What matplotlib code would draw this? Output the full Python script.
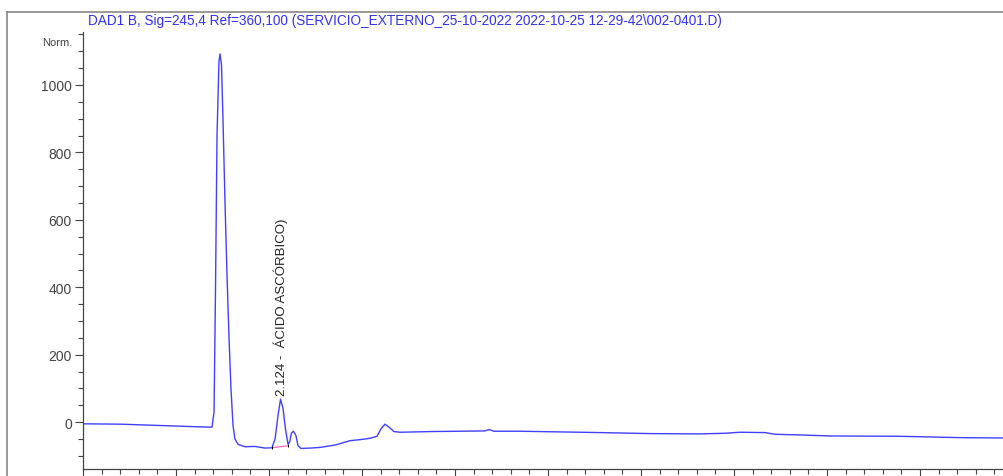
import numpy as np
import matplotlib.pyplot as plt
from matplotlib.lines import Line2D
from matplotlib.ticker import MultipleLocator

plt.rcParams['font.family'] = ['Liberation Sans', 'DejaVu Sans']

# retention time (min) and signal (Norm.)
time = [0.000, 0.398, 0.828, 1.258, 1.387, 1.409, 1.425, 1.441, 1.462, 1.473,
        1.489, 1.505, 1.527, 1.548, 1.570, 1.591, 1.613, 1.634, 1.667, 1.742,
        1.849, 1.957, 2.032, 2.065, 2.097, 2.124, 2.151, 2.177, 2.204, 2.220,
        2.242, 2.263, 2.290, 2.312, 2.344, 2.441, 2.548, 2.710, 2.871, 2.978,
        3.086, 3.161, 3.204, 3.247, 3.290, 3.344, 3.409, 3.731, 4.054, 4.323,
        4.366, 4.419, 4.699, 5.129, 5.559, 6.097, 6.634, 6.903, 7.065, 7.333,
        7.441, 7.710, 8.032, 8.785, 9.430, 9.903]
signal = [-5, -6, -10, -14, -15, 30, 400, 850, 1070, 1092,
          1060, 900, 650, 440, 250, 100, -10, -50, -66, -73,
          -72, -77, -76, -50, 20, 68, 40, -20, -65, -60,
          -32, -27, -40, -70, -78, -77, -75, -68, -55, -52,
          -48, -42, -20, -6, -15, -28, -30, -28, -27, -26,
          -22, -27, -27, -29, -31, -34, -35, -33, -30, -31,
          -36, -38, -41, -42, -46, -47]

# integration baseline of the labelled peak
base_t = [2.035, 2.208]
base_y = [-76, -70]

peak_rt = 2.124
peak_h = 68
peak_label = '2.124 -  ÁCIDO ASCÓRBICO)'
title = 'DAD1 B, Sig=245,4 Ref=360,100 (SERVICIO_EXTERNO_25-10-2022 2022-10-25 12-29-42\\002-0401.D)'

fig = plt.figure(figsize=(10.04, 4.77), dpi=100)
W, H = 1004, 477
ax = fig.add_axes([83 / W, 7 / H, (W - 83) / W, (470 - 33) / H])

ax.plot(time, signal, color='#4040ff', lw=1.0)
ax.plot(base_t, base_y, color='#ff66cc', lw=0.9)
ax.vlines(base_t, [y - 5 for y in base_y], [y + 5 for y in base_y], color='k', lw=0.7)

ax.text(peak_rt, peak_h + 12, peak_label, rotation=90, ha='center', va='bottom',
        fontsize=9.5, color='#222222')

ax.set_xlim(0, 9.903)
ax.set_ylim(-139, 1157)
ax.xaxis.set_major_locator(MultipleLocator(1))
ax.xaxis.set_minor_locator(MultipleLocator(0.2))
ax.yaxis.set_major_locator(MultipleLocator(200))
ax.yaxis.set_minor_locator(MultipleLocator(50))
ax.tick_params(axis='both', which='both', direction='out', color='#444444', width=0.8)
ax.tick_params(axis='both', which='major', length=6)
ax.tick_params(axis='both', which='minor', length=3.5)
ax.tick_params(axis='x', labelbottom=False)
ax.tick_params(axis='y', labelsize=10, labelcolor='#444444', pad=2)

for s in ['top', 'right']:
    ax.spines[s].set_visible(False)
for s in ['left', 'bottom']:
    ax.spines[s].set_color('#444444')
    ax.spines[s].set_linewidth(0.9)

fig.text(72 / W, 1 - 43 / H, 'Norm.', fontsize=8, color='#444444', ha='right', va='center')
fig.text(88 / W, 1 - 21 / H, title, fontsize=9.8, color='#3333ee', ha='left', va='center')

# outer frame
fig.add_artist(Line2D([7 / W, 7 / W], [0, 1 - 13 / H], color='#888888', lw=1.2))
fig.add_artist(Line2D([7 / W, 1], [1 - 13 / H, 1 - 13 / H], color='#888888', lw=1.2))

fig.savefig('out.png', dpi=100)
